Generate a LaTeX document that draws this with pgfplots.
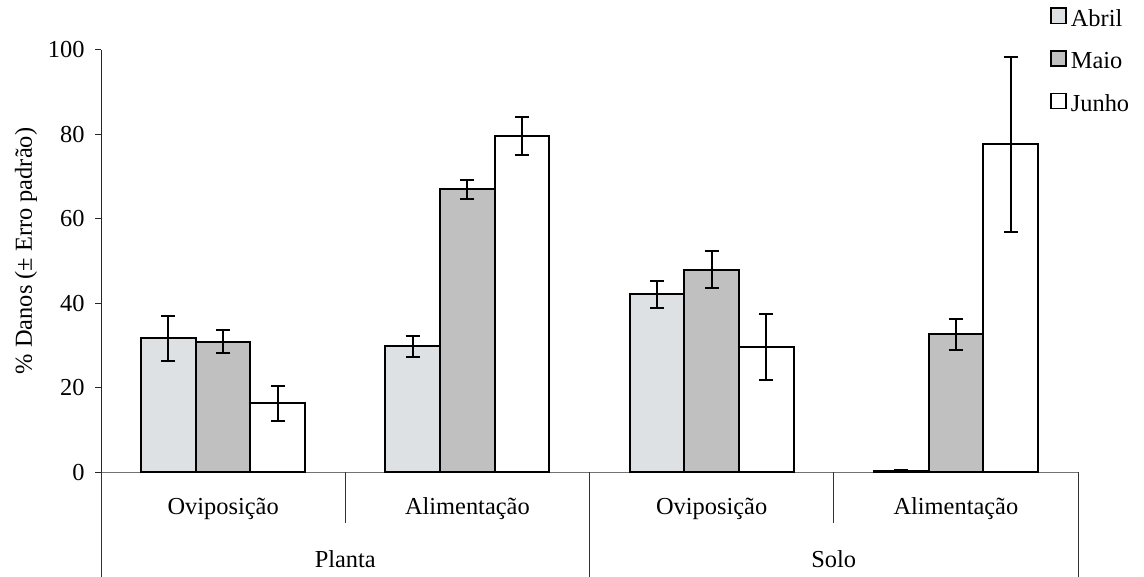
\documentclass[border=0pt]{standalone}
\usepackage{fontspec}
\setmainfont{Liberation Serif}
\usepackage{pgfplots}
\usepackage{pgfplotstable}
\pgfplotsset{compat=1.18}

\definecolor{abril}{RGB}{222,225,228}
\definecolor{maio}{RGB}{192,192,192}

% x: 0 Planta-Oviposicao, 1 Planta-Alimentacao, 2 Solo-Oviposicao, 3 Solo-Alimentacao
\pgfplotstableread{
x  y     err
0  31.75 5.25
1  29.9  2.45
2  42.2  3.2
3  0.3   0.2
}\abril

\pgfplotstableread{
x  y     err
0  31.0  2.75
1  67.0  2.25
2  48.0  4.4
3  32.7  3.65
}\maio

\pgfplotstableread{
x  y     err
0  16.4  4.1
1  79.7  4.45
2  29.8  7.8
3  77.7  20.7
}\junho

\newcommand{\chartfont}{\fontsize{12.2}{14.6}\selectfont}

\begin{document}
\chartfont
\begin{tikzpicture}
\path[use as bounding box] (0,0) rectangle (572pt,288.5pt);
\begin{axis}[
    at={(50.5pt,52.25pt)}, anchor=south west,
    scale only axis,
    width=488.5pt, height=211.25pt,
    xmin=-0.5, xmax=3.5,
    ymin=0, ymax=100,
    axis x line=bottom, axis y line=left,
    x axis line style={-, black!55, line width=0.6pt},
    y axis line style={-, black!85, line width=0.5pt},
    xtick=\empty,
    ytick={0,20,40,60,80,100},
    tick align=outside,
    major tick length=3pt,
    ytick style={black!85, line width=0.5pt},
    yticklabel style={font=\chartfont, xshift=-1pt},
    /pgf/number format/assume math mode=true,
    ybar=0pt,
    bar width=0.224,
    clip=false,
    every axis plot/.append style={draw=black, line width=1pt},
    error bars/y dir=both,
    error bars/y explicit,
    error bars/error bar style={line width=1pt, black},
    error bars/error mark options={rotate=90, mark size=3.5pt, line width=1pt, black},
    legend style={at={(0.971,1.106)}, anchor=north west, draw=none, fill=none,
        font=\chartfont, row sep=7.2pt, inner sep=0pt,
        /tikz/every even column/.append style={column sep=2.6pt}},
    legend cell align=left,
    legend image code/.code={\draw[#1, line width=0.8pt] (0pt,-1.7pt) rectangle (7.6pt,5.9pt);},
]
\addplot[fill=abril] table[x=x, y=y, y error=err] {\abril};
\addplot[fill=maio] table[x=x, y=y, y error=err] {\maio};
\addplot[fill=white] table[x=x, y=y, y error=err] {\junho};
\legend{Abril, Maio, Junho}

% category separators below the x axis
\draw[black!80, line width=0.5pt] (axis cs:-0.5,0) -- ([yshift=-52.5pt]axis cs:-0.5,0);
\draw[black!80, line width=0.5pt] (axis cs:1.5,0) -- ([yshift=-52.5pt]axis cs:1.5,0);
\draw[black!80, line width=0.5pt] (axis cs:3.5,0) -- ([yshift=-52.5pt]axis cs:3.5,0);
\draw[black!80, line width=0.5pt] (axis cs:0.5,0) -- ([yshift=-25.5pt]axis cs:0.5,0);
\draw[black!80, line width=0.5pt] (axis cs:2.5,0) -- ([yshift=-25.5pt]axis cs:2.5,0);

% category labels
\node[anchor=base] at ([yshift=-21.25pt]axis cs:0,0) {Oviposição};
\node[anchor=base] at ([yshift=-21.25pt]axis cs:1,0) {Alimentação};
\node[anchor=base] at ([yshift=-21.25pt]axis cs:2,0) {Oviposição};
\node[anchor=base] at ([yshift=-21.25pt]axis cs:3,0) {Alimentação};
\node[anchor=base] at ([yshift=-47.75pt]axis cs:0.5,0) {Planta};
\node[anchor=base] at ([yshift=-47.75pt]axis cs:2.5,0) {Solo};
\end{axis}
\node[rotate=90] at (13pt,163pt) {\% Danos (± Erro padrão)};
\end{tikzpicture}
\end{document}
